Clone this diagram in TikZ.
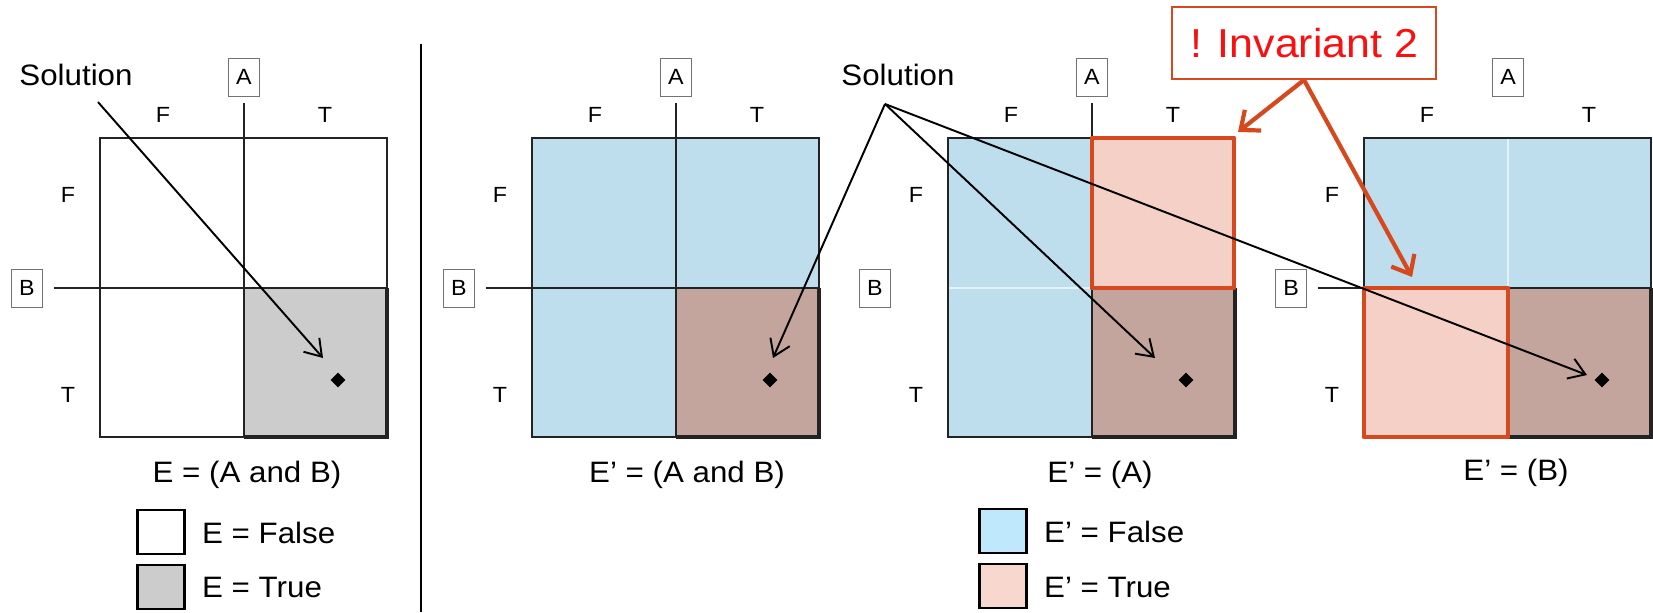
\documentclass[tikz,border=0pt]{standalone}
\usepackage{fontspec}
\setmainfont{Liberation Sans}[FakeStretch=1.06]
\usetikzlibrary{arrows.meta,shapes.geometric}
\definecolor{cb}{RGB}{190,222,238}
\definecolor{cp}{RGB}{244,208,198}
\definecolor{cr}{RGB}{195,165,157}
\definecolor{cg}{RGB}{204,204,204}
\definecolor{lb}{RGB}{192,232,252}
\definecolor{lp}{RGB}{248,215,207}
\definecolor{or}{RGB}{214,72,30}
\definecolor{rd}{RGB}{250,16,16}
\definecolor{ln}{RGB}{35,35,35}

\begin{document}
\begin{tikzpicture}[x=0.02cm, y=-0.02cm,
    txt/.style={font=\fontsize{16.8}{19}\selectfont},
    tf/.style={font=\fontsize{12.5}{14}\selectfont},
    var/.style={draw=black!55, fill=white, font=\fontsize{12.5}{14}\selectfont,
        minimum width=0.62cm, minimum height=0.76cm, inner sep=0pt},
    dot/.style={diamond, fill=black, inner sep=0pt, minimum size=0.3cm},
    sarr/.style={-{Straight Barb[length=9pt,width=12pt]}, black, line width=1.1pt},
    iarr/.style={-{Straight Barb[length=9pt,width=15pt]}, or, line width=2.4pt},
    grid/.style={ln, line width=1pt},
    key/.style={draw=black, line width=1.4pt, minimum width=0.94cm,
        minimum height=0.88cm, inner sep=0pt}]

\useasboundingbox (0,0) rectangle (1653,612);

% ════════════════════════════════════════════════
%  CELL FILLS
% ════════════════════════════════════════════════

% E = (A and B)
\fill[cg] (244,288) rectangle (387,437);

% E' = (A and B)
\fill[cb] (532,138) rectangle (819,437);
\fill[cr] (676,288) rectangle (819,437);

% E' = (A)
\fill[cb] (948,138) rectangle (1092,437);
\fill[cp] (1092,138) rectangle (1234,288);
\fill[cr] (1092,288) rectangle (1234,437);
\draw[white!60!cb, line width=0.6pt] (948,288) -- (1092,288);

% E' = (B)
\fill[cb] (1364,138) rectangle (1651,288);
\fill[cp] (1364,288) rectangle (1508,437);
\fill[cr] (1508,288) rectangle (1651,437);
\draw[white!60!cb, line width=0.6pt] (1508,138) -- (1508,288);

% ════════════════════════════════════════════════
%  GRIDS, AXIS LABELS, SOLUTION POINTS
% ════════════════════════════════════════════════

\foreach \x/\i in {100/1,532/2,948/3,1364/4}{
    \draw[grid] (\x,138) rectangle ++(287,299);
    \draw[ln, line width=1.8pt] (\x+287,288) -- (\x+287,437) -- (\x+144,437);
    \node[tf] at (\x+63,115) {F};
    \node[tf] at (\x+225,115) {T};
    \node[tf] at (\x-32,195) {F};
    \node[tf] at (\x-32,395) {T};
    \node[var] (a\i) at (\x+144,77) {A};
    \node[var] (b\i) at (\x-73,288) {B};
    \node[dot] (d\i) at (\x+238,380) {};
}

% variable lines
\draw[grid] ([yshift=-0.14cm]a1.south) -- (244,437);
\draw[grid] ([xshift=0.22cm]b1.east) -- (387,288);
\draw[grid] ([yshift=-0.14cm]a2.south) -- (676,437);
\draw[grid] ([xshift=0.22cm]b2.east) -- (819,288);
\draw[grid] ([yshift=-0.14cm]a3.south) -- (1092,437);
\draw[grid] ([xshift=0.22cm]b4.east) -- (1651,288);

% violated cells
\draw[or, line width=2.8pt, line join=round] (1092,138) rectangle (1234,288);
\draw[or, line width=2.8pt, line join=round] (1364,288) rectangle (1508,437);

% divider
\draw[black, line width=1.1pt] (421,44) -- (421,612);

% ════════════════════════════════════════════════
%  CAPTIONS AND KEYS
% ════════════════════════════════════════════════

\node[txt] (c1) at (247,475) {E = (A and B)};
\node[txt] (c2) at (687,475) {E’ = (A and B)};
\node[txt] (c3) at (1100,475) {E’ = (A)};
\node[txt] (c4) at (1516,473) {E’ = (B)};

\node[key, fill=white] (kf) at (161,532) {};
\node[key, fill=cg] (kt) at (161,587) {};
\node[txt, anchor=west] (tf) at (196,533) {E = False};
\node[txt, anchor=west] (tt) at (196,587) {E = True};

\node[key, fill=lb] (kf2) at (1003,531) {};
\node[key, fill=lp] (kt2) at (1003,586) {};
\node[txt, anchor=west] (tf2) at (1038,532) {E’ = False};
\node[txt, anchor=west] (tt2) at (1038,587) {E’ = True};

% ════════════════════════════════════════════════
%  SOLUTION ARROWS
% ════════════════════════════════════════════════

\node[txt] (sol1) at (76,75) {Solution};
\node[txt] (sol2) at (898,75) {Solution};

\coordinate (p1) at (323,358);
\coordinate (p2) at (773,358);
\coordinate (p3) at (1155,358);
\coordinate (p4) at (1587,375);
\coordinate (fan) at (885,104);

\draw[sarr] ([xshift=0.44cm,yshift=-0.2cm]sol1.south) -- (p1);
\draw[sarr] (fan) -- (p2);
\draw[sarr] (fan) -- (p3);
\draw[sarr] (fan) -- (p4);

% ════════════════════════════════════════════════
%  INVARIANT CALLOUT
% ════════════════════════════════════════════════

\node[draw=or, line width=1.1pt, fill=white, minimum width=5.28cm,
    minimum height=1.44cm, font=\fontsize{23}{26}\selectfont, text=rd]
    (inv) at (1304,43) {! Invariant 2};

\coordinate (q1) at (1238,132);
\coordinate (q2) at (1412,277);
\draw[iarr] (inv.south) -- (q1);
\draw[iarr] (inv.south) -- (q2);

\end{tikzpicture}
\end{document}
